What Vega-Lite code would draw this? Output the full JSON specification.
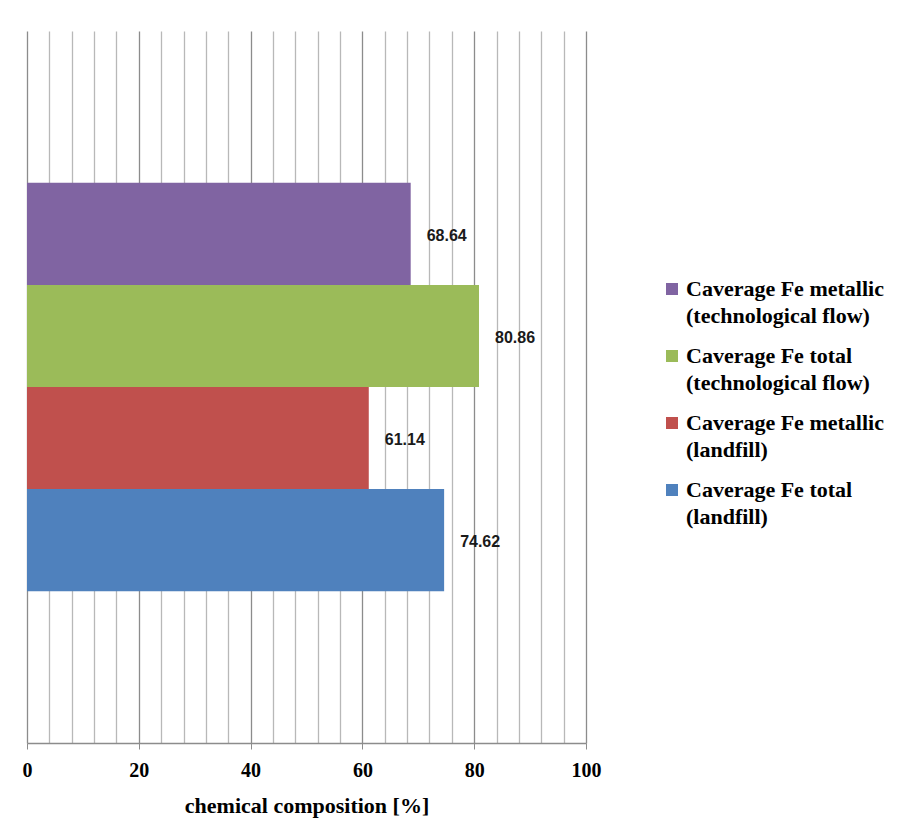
{
  "$schema": "https://vega.github.io/schema/vega-lite/v6.json",
  "width": 559,
  "height": 712,
  "autosize": {"type": "none"},
  "padding": {"left": 27, "top": 31, "right": 317, "bottom": 86},
  "background": "white",
  "config": {"view": {"stroke": null}},
  "data": {
    "values": [
      {"category": "Fe", "series": "Caverage Fe metallic (technological flow)", "value": 68.64},
      {"category": "Fe", "series": "Caverage Fe total (technological flow)", "value": 80.86},
      {"category": "Fe", "series": "Caverage Fe metallic (landfill)", "value": 61.14},
      {"category": "Fe", "series": "Caverage Fe total (landfill)", "value": 74.62}
    ]
  },
  "encoding": {
    "y": {
      "field": "category",
      "type": "nominal",
      "scale": {"paddingInner": 0, "paddingOuter": 0.372},
      "axis": null
    },
    "yOffset": {
      "field": "series",
      "type": "nominal",
      "sort": null,
      "scale": {
        "domain": [
          "Caverage Fe metallic (technological flow)",
          "Caverage Fe total (technological flow)",
          "Caverage Fe metallic (landfill)",
          "Caverage Fe total (landfill)"
        ],
        "paddingInner": 0,
        "paddingOuter": 0
      }
    },
    "x": {
      "field": "value",
      "type": "quantitative",
      "scale": {"domain": [0, 100], "nice": false},
      "axis": {
        "values": [0, 4, 8, 12, 16, 20, 24, 28, 32, 36, 40, 44, 48, 52, 56, 60, 64, 68, 72, 76, 80, 84, 88, 92, 96, 100],
        "labelExpr": "datum.value % 20 === 0 ? datum.label : ''",
        "grid": true,
        "gridColor": {"condition": {"test": "datum.value % 20 === 0", "value": "#8c8c8c"}, "value": "#b8b8b8"},
        "gridWidth": 1.3,
        "ticks": true,
        "tickSize": 6,
        "tickColor": {"condition": {"test": "datum.value % 20 === 0", "value": "#8c8c8c"}, "value": "transparent"},
        "domainColor": "#8c8c8c",
        "domainWidth": 1.3,
        "labelFont": "Liberation Serif",
        "labelFontWeight": "bold",
        "labelFontSize": 20,
        "labelColor": "black",
        "labelPadding": 11,
        "labelFlush": false,
        "labelOverlap": false,
        "title": "chemical composition [%]",
        "titleFont": "Liberation Serif",
        "titleFontWeight": "bold",
        "titleFontSize": 22,
        "titleColor": "black",
        "titlePadding": 15
      }
    }
  },
  "layer": [
    {
      "mark": {"type": "bar"},
      "encoding": {
        "color": {
          "field": "series",
          "type": "nominal",
          "scale": {
            "domain": [
              "Caverage Fe metallic (technological flow)",
              "Caverage Fe total (technological flow)",
              "Caverage Fe metallic (landfill)",
              "Caverage Fe total (landfill)"
            ],
            "range": ["#8064A2", "#9BBB59", "#C0504D", "#4F81BD"]
          },
          "legend": {
            "orient": "none",
            "legendX": 634,
            "legendY": 247,
            "title": null,
            "padding": 0,
            "symbolType": "square",
            "symbolSize": 144,
            "symbolStrokeWidth": 0,
            "symbolOpacity": 1,
            "labelFont": "Liberation Serif",
            "labelFontWeight": "bold",
            "labelFontSize": 22,
            "labelColor": "black",
            "labelLimit": 400,
            "labelOffset": 3,
            "rowPadding": 18,
            "labelExpr": "[substring(datum.label, 0, indexof(datum.label, ' (')), substring(datum.label, indexof(datum.label, ' (') + 1)]",
            "encode": {"labels": {"update": {"lineHeight": {"value": 27}}}}
          }
        }
      }
    },
    {
      "mark": {"type": "text", "align": "left", "baseline": "middle", "dx": 16, "dy": 2, "font": "Liberation Sans", "fontWeight": "bold", "fontSize": 16, "color": "#1a1a1a"},
      "encoding": {
        "text": {"field": "value", "type": "quantitative", "format": ".2f"}
      }
    }
  ]
}
